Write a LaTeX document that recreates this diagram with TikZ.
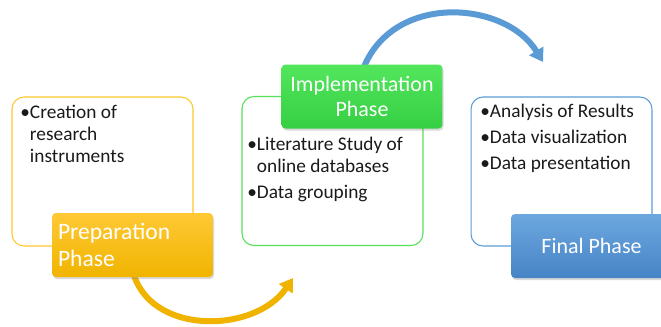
\documentclass[tikz,border=0pt]{standalone}
\usepackage{fontspec}
\setmainfont{Carlito}
\usetikzlibrary{arrows.meta,shadows}

\definecolor{prepline}{HTML}{FFC72C}
\definecolor{preptop}{HTML}{FFC935}
\definecolor{prepbot}{HTML}{F0B400}
\definecolor{impline}{HTML}{55E05A}
\definecolor{imptop}{HTML}{52E65C}
\definecolor{impbot}{HTML}{36CF43}
\definecolor{finline}{HTML}{5B9BD5}
\definecolor{fintop}{HTML}{6CA7DE}
\definecolor{finbot}{HTML}{4784C6}
\definecolor{listtext}{HTML}{1A1A1A}

\tikzset{
  notebox/.style={draw, line width=0.6pt, rounded corners=0.24cm,
    minimum width=3.62cm, minimum height=2.98cm, inner sep=0pt},
  notelist/.style={anchor=base west, align=left, inner sep=0pt,
    text=listtext, font=\fontsize{11}{12.3}\selectfont},
  phasebox/.style={rounded corners=0.08cm, minimum width=3.22cm,
    minimum height=1.28cm, text=white, font=\fontsize{12.5}{14.2}\selectfont,
    drop shadow={opacity=0.3, shadow xshift=0.6pt, shadow yshift=-1.2pt}},
  bendarrow/.style={line width=0.12cm, -{Triangle[length=0.26cm, width=0.32cm]}}
}

\begin{document}
\begin{tikzpicture}[x=0.02cm, y=-0.02cm]
    \clip (0,0) rectangle (661,326);

    \coordinate (yellowend) at (293,278);
    \coordinate (blueend)   at (543,62);

    % Note boxes
    \node[notebox, draw=prepline] (prepnote) at (102.5,171.5) {};
    \node[notebox, draw=impline]  (impnote)  at (332.5,171)   {};
    \node[notebox, draw=finline]  (finnote)  at (561.5,171.5) {};

    % (base = last line)
    \node[notelist] (preplist) at (20,162)
        {•Creation of\\\hphantom{•}research\\\hphantom{•}instruments};
    \node[notelist] (implist) at (247,198)
        {•Literature Study of\\\hphantom{•}online databases\\[2.4pt]•Data grouping};
    \node[notelist] (finlist) at (480,169)
        {•Analysis of Results\\[2.4pt]•Data visualization\\[2.4pt]•Data presentation};

    % Arcs
    \draw[bendarrow, prepbot] (132.5,270) .. controls (148,336) and (255,334) .. (yellowend);
    \draw[bendarrow, finline] (362,72) .. controls (390,-8) and (505,0) .. (blueend);

    % Phase boxes
    \node[phasebox, top color=preptop, bottom color=prepbot,
          font=\fontsize{13.4}{15.2}\selectfont,
          align=left, text width=2.98cm, inner xsep=0.12cm] (prep) at (132.5,245)
        {Preparation\\Phase};
    \node[phasebox, top color=imptop, bottom color=impbot,
          align=center] (imp) at (362,96.5)
        {Implementation\\Phase};
    \node[phasebox, top color=fintop, bottom color=finbot] (fin) at (591.5,246)
        {Final Phase};
\end{tikzpicture}
\end{document}
